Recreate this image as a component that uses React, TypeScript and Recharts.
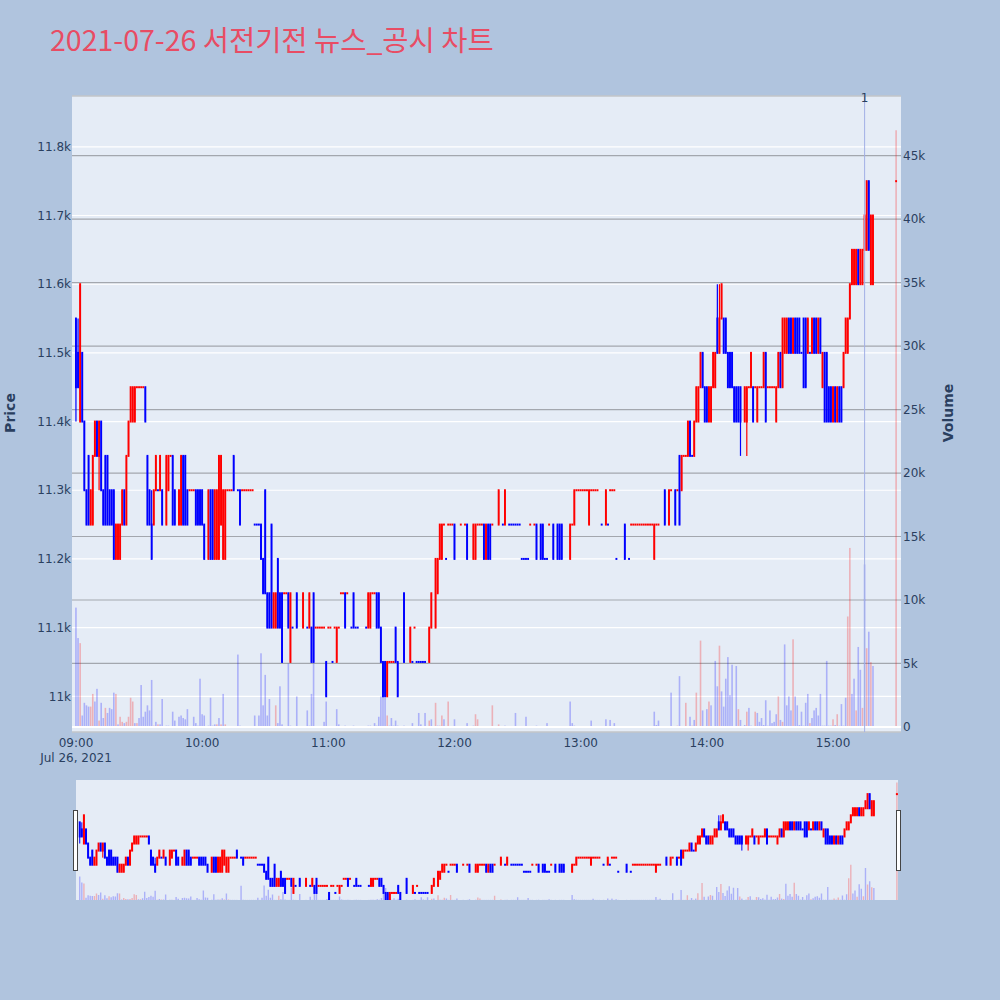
import React from "react";
import {
  Bar,
  CartesianGrid,
  ComposedChart,
  ReferenceLine,
  XAxis,
  YAxis,
} from "recharts";

const TITLE = "2021-07-26 서전기전 뉴스_공시 차트";

// 분 단위 (09:00 기준 경과 분)
const MINUTE = [
  0, 1, 2, 3, 4, 5, 6, 7, 8, 9,
  10, 11, 12, 13, 14, 15, 16, 17, 18, 19,
  20, 21, 22, 23, 24, 25, 26, 27, 28, 29,
  30, 31, 32, 33, 34, 35, 36, 37, 38, 39,
  40, 41, 43, 44, 45, 46, 47, 49, 50, 51,
  52, 53, 54, 55, 56, 57, 58, 59, 60, 61,
  63, 64, 65, 66, 67, 68, 69, 70, 71, 72,
  73, 74, 75, 77, 78, 79, 80, 81, 82, 83,
  84, 85, 86, 87, 88, 89, 90, 91, 92, 93,
  94, 95, 96, 97, 98, 99, 100, 101, 102, 103,
  105, 108, 110, 111, 112, 113, 114, 115, 116, 117,
  118, 119, 120, 121, 122, 123, 124, 125, 126, 127,
  128, 129, 131, 132, 133, 134, 138, 139, 140, 141,
  142, 143, 144, 145, 146, 147, 148, 149, 150, 151,
  152, 153, 156, 159, 160, 161, 162, 163, 164, 165,
  166, 168, 169, 171, 172, 173, 174, 175, 176, 177,
  178, 179, 180, 183, 185, 186, 189, 190, 191, 192,
  193, 194, 195, 196, 197, 198, 201, 203, 204, 206,
  207, 208, 209, 210, 211, 212, 213, 214, 215, 216,
  218, 219, 221, 222, 223, 224, 225, 227, 229, 230,
  231, 235, 236, 237, 238, 239, 240, 241, 242, 243,
  244, 245, 246, 247, 248, 250, 252, 253, 254, 255,
  256, 257, 261, 263, 264, 265, 266, 267, 268, 269,
  270, 271, 272, 273, 274, 275, 276, 277, 280, 282,
  283, 285, 286, 287, 288, 289, 290, 291, 292, 293,
  294, 295, 296, 297, 298, 299, 300, 301, 302, 303,
  304, 305, 306, 307, 308, 309, 310, 311, 312, 313,
  314, 315, 316, 318, 319, 320, 321, 322, 323, 324,
  325, 326, 327, 328, 329, 330, 331, 332, 333, 334,
  335, 336, 337, 338, 339, 340, 341, 342, 343, 344,
  345, 346, 347, 348, 349, 350, 351, 352, 353, 354,
  355, 356, 357, 358, 359, 360, 361, 362, 363, 364,
  365, 366, 367, 368, 369, 370, 371, 372, 373, 374,
  375, 376, 377, 378, 379, 390,
];

const OPEN = [
  11550, 11500, 11400, 11500, 11400, 11300, 11350, 11250, 11250, 11350,
  11400, 11350, 11400, 11300, 11350, 11350, 11300, 11300, 11300, 11200,
  11200, 11200, 11250, 11300, 11250, 11350, 11400, 11400, 11400, 11450,
  11450, 11450, 11450, 11450, 11350, 11300, 11250, 11250, 11300, 11300,
  11300, 11300, 11250, 11300, 11350, 11350, 11300, 11250, 11250, 11350,
  11350, 11300, 11300, 11300, 11300, 11300, 11300, 11300, 11300, 11250,
  11200, 11300, 11300, 11200, 11200, 11200, 11250, 11200, 11200, 11300,
  11300, 11300, 11350, 11300, 11300, 11300, 11300, 11300, 11300, 11300,
  11300, 11250, 11250, 11250, 11250, 11200, 11300, 11150, 11150, 11250,
  11100, 11100, 11200, 11150, 11150, 11150, 11150, 11150, 11050, 11100,
  11150, 11100, 11100, 11100, 11100, 11150, 11100, 11100, 11100, 11100,
  11100, 11050, 11100, 11100, 11050, 11100, 11050, 11100, 11150, 11150,
  11150, 11150, 11100, 11150, 11100, 11100, 11100, 11100, 11100, 11150,
  11150, 11150, 11150, 11100, 11050, 11050, 11000, 11050, 11050, 11050,
  11100, 11050, 11150, 11050, 11050, 11100, 11050, 11050, 11050, 11050,
  11050, 11050, 11100, 11100, 11150, 11200, 11200, 11250, 11200, 11250,
  11250, 11250, 11250, 11250, 11250, 11250, 11200, 11200, 11250, 11250,
  11250, 11250, 11200, 11250, 11250, 11250, 11250, 11250, 11250, 11250,
  11250, 11250, 11250, 11250, 11250, 11200, 11200, 11200, 11200, 11250,
  11250, 11250, 11250, 11250, 11200, 11200, 11250, 11250, 11250, 11250,
  11250, 11200, 11250, 11250, 11300, 11300, 11300, 11300, 11300, 11300,
  11250, 11300, 11300, 11300, 11300, 11250, 11250, 11250, 11300, 11300,
  11300, 11200, 11250, 11200, 11250, 11250, 11250, 11250, 11250, 11250,
  11250, 11250, 11250, 11250, 11250, 11200, 11250, 11250, 11300, 11250,
  11300, 11300, 11300, 11350, 11300, 11350, 11350, 11350, 11400, 11350,
  11350, 11400, 11400, 11450, 11500, 11450, 11450, 11400, 11400, 11450,
  11450, 11550, 11500, 11550, 11550, 11550, 11500, 11500, 11500, 11450,
  11450, 11450, 11450, 11400, 11400, 11450, 11450, 11450, 11450, 11400,
  11450, 11450, 11450, 11500, 11450, 11450, 11450, 11450, 11400, 11450,
  11500, 11450, 11500, 11500, 11550, 11550, 11500, 11550, 11550, 11550,
  11500, 11550, 11550, 11500, 11500, 11500, 11550, 11550, 11500, 11550,
  11450, 11500, 11500, 11450, 11450, 11400, 11450, 11400, 11450, 11450,
  11450, 11500, 11500, 11550, 11600, 11600, 11600, 11650, 11600, 11600,
  11650, 11650, 11750, 11600, 11600, 11750,
];

const HIGH = [
  11550, 11550, 11600, 11500, 11400, 11300, 11350, 11300, 11350, 11400,
  11400, 11400, 11400, 11300, 11350, 11350, 11300, 11300, 11300, 11250,
  11250, 11250, 11300, 11300, 11350, 11400, 11450, 11450, 11450, 11450,
  11450, 11450, 11450, 11450, 11350, 11300, 11300, 11300, 11350, 11300,
  11350, 11300, 11350, 11350, 11350, 11350, 11300, 11300, 11350, 11350,
  11350, 11300, 11300, 11300, 11300, 11300, 11300, 11300, 11300, 11250,
  11300, 11300, 11300, 11300, 11300, 11350, 11350, 11300, 11300, 11300,
  11300, 11300, 11350, 11300, 11300, 11300, 11300, 11300, 11300, 11300,
  11300, 11250, 11250, 11250, 11250, 11200, 11300, 11150, 11150, 11250,
  11150, 11150, 11200, 11150, 11150, 11150, 11150, 11150, 11150, 11100,
  11150, 11150, 11100, 11150, 11100, 11150, 11100, 11100, 11100, 11100,
  11100, 11050, 11100, 11100, 11050, 11100, 11100, 11100, 11150, 11150,
  11150, 11150, 11100, 11150, 11100, 11100, 11100, 11150, 11150, 11150,
  11150, 11150, 11150, 11100, 11050, 11050, 11050, 11050, 11050, 11050,
  11100, 11050, 11150, 11100, 11050, 11100, 11050, 11050, 11050, 11050,
  11050, 11100, 11150, 11200, 11200, 11250, 11250, 11250, 11200, 11250,
  11250, 11250, 11250, 11250, 11250, 11250, 11250, 11250, 11250, 11250,
  11250, 11250, 11250, 11250, 11250, 11250, 11300, 11250, 11300, 11250,
  11250, 11250, 11250, 11250, 11250, 11200, 11200, 11200, 11200, 11250,
  11250, 11250, 11250, 11250, 11200, 11200, 11250, 11250, 11250, 11250,
  11250, 11250, 11250, 11300, 11300, 11300, 11300, 11300, 11300, 11300,
  11300, 11300, 11300, 11300, 11300, 11250, 11300, 11250, 11300, 11300,
  11300, 11200, 11250, 11200, 11250, 11250, 11250, 11250, 11250, 11250,
  11250, 11250, 11250, 11250, 11250, 11250, 11250, 11250, 11300, 11300,
  11300, 11300, 11300, 11350, 11350, 11350, 11350, 11400, 11400, 11350,
  11400, 11450, 11450, 11500, 11500, 11450, 11450, 11450, 11450, 11500,
  11500, 11600, 11600, 11600, 11550, 11550, 11500, 11500, 11500, 11450,
  11450, 11450, 11450, 11450, 11450, 11450, 11500, 11450, 11450, 11450,
  11450, 11450, 11500, 11500, 11450, 11450, 11450, 11450, 11450, 11500,
  11500, 11550, 11550, 11550, 11550, 11550, 11550, 11550, 11550, 11550,
  11500, 11550, 11550, 11550, 11500, 11550, 11550, 11550, 11550, 11550,
  11500, 11500, 11500, 11450, 11450, 11450, 11450, 11450, 11450, 11450,
  11500, 11550, 11550, 11600, 11650, 11650, 11650, 11650, 11650, 11650,
  11700, 11750, 11750, 11700, 11700, 11750,
];

const LOW = [
  11400, 11450, 11400, 11400, 11300, 11250, 11250, 11250, 11250, 11350,
  11350, 11300, 11300, 11250, 11250, 11250, 11250, 11250, 11200, 11200,
  11200, 11200, 11250, 11250, 11250, 11350, 11400, 11400, 11400, 11450,
  11450, 11450, 11450, 11400, 11250, 11250, 11200, 11250, 11300, 11300,
  11300, 11250, 11250, 11300, 11350, 11250, 11250, 11250, 11250, 11250,
  11250, 11250, 11300, 11300, 11300, 11250, 11250, 11250, 11250, 11200,
  11200, 11200, 11200, 11200, 11200, 11200, 11250, 11200, 11200, 11300,
  11300, 11300, 11300, 11300, 11250, 11300, 11300, 11300, 11300, 11300,
  11300, 11250, 11250, 11250, 11200, 11150, 11150, 11100, 11100, 11100,
  11100, 11100, 11100, 11100, 11050, 11150, 11150, 11100, 11050, 11100,
  11100, 11100, 11100, 11100, 11050, 11050, 11100, 11100, 11100, 11100,
  11100, 11000, 11100, 11100, 11050, 11100, 11050, 11100, 11150, 11150,
  11100, 11150, 11100, 11100, 11100, 11100, 11100, 11100, 11100, 11150,
  11150, 11100, 11100, 11050, 11000, 11000, 11000, 11050, 11050, 11050,
  11050, 11000, 11050, 11050, 11050, 11100, 11050, 11050, 11050, 11050,
  11050, 11050, 11100, 11100, 11150, 11200, 11200, 11250, 11200, 11250,
  11250, 11250, 11200, 11250, 11250, 11200, 11200, 11200, 11250, 11250,
  11250, 11200, 11200, 11200, 11200, 11250, 11250, 11250, 11250, 11250,
  11250, 11250, 11250, 11250, 11250, 11200, 11200, 11200, 11200, 11250,
  11250, 11200, 11200, 11200, 11200, 11200, 11250, 11200, 11200, 11200,
  11200, 11200, 11250, 11250, 11300, 11300, 11300, 11300, 11300, 11300,
  11250, 11300, 11300, 11300, 11300, 11250, 11250, 11250, 11300, 11300,
  11300, 11200, 11200, 11200, 11250, 11250, 11250, 11250, 11250, 11250,
  11250, 11250, 11250, 11250, 11250, 11200, 11250, 11250, 11250, 11250,
  11300, 11250, 11300, 11250, 11300, 11350, 11350, 11350, 11350, 11350,
  11350, 11400, 11400, 11450, 11450, 11400, 11400, 11400, 11400, 11450,
  11450, 11500, 11500, 11550, 11500, 11500, 11450, 11450, 11450, 11400,
  11400, 11400, 11350, 11400, 11350, 11450, 11450, 11400, 11450, 11400,
  11450, 11450, 11450, 11400, 11450, 11450, 11450, 11450, 11400, 11450,
  11450, 11450, 11500, 11500, 11500, 11500, 11500, 11500, 11500, 11500,
  11500, 11450, 11450, 11500, 11500, 11500, 11500, 11500, 11500, 11500,
  11450, 11400, 11400, 11400, 11400, 11400, 11400, 11400, 11400, 11400,
  11450, 11500, 11500, 11550, 11600, 11600, 11600, 11600, 11600, 11600,
  11650, 11650, 11650, 11600, 11600, 11750,
];

const CLOSE = [
  11450, 11450, 11600, 11400, 11300, 11250, 11250, 11300, 11350, 11400,
  11350, 11400, 11300, 11250, 11250, 11250, 11250, 11250, 11200, 11250,
  11250, 11250, 11300, 11250, 11350, 11400, 11450, 11450, 11450, 11450,
  11450, 11450, 11450, 11400, 11250, 11250, 11200, 11300, 11350, 11300,
  11350, 11250, 11350, 11350, 11350, 11250, 11250, 11300, 11350, 11250,
  11250, 11250, 11300, 11300, 11300, 11250, 11250, 11250, 11250, 11200,
  11300, 11200, 11200, 11300, 11300, 11350, 11350, 11300, 11300, 11300,
  11300, 11300, 11300, 11300, 11250, 11300, 11300, 11300, 11300, 11300,
  11300, 11250, 11250, 11250, 11200, 11150, 11150, 11100, 11100, 11100,
  11150, 11150, 11100, 11100, 11050, 11150, 11150, 11100, 11150, 11100,
  11100, 11150, 11100, 11150, 11050, 11050, 11100, 11100, 11100, 11100,
  11100, 11000, 11100, 11100, 11050, 11100, 11100, 11100, 11150, 11150,
  11100, 11150, 11100, 11100, 11100, 11100, 11100, 11150, 11150, 11150,
  11150, 11100, 11100, 11050, 11000, 11000, 11050, 11050, 11050, 11050,
  11050, 11000, 11050, 11100, 11050, 11100, 11050, 11050, 11050, 11050,
  11050, 11100, 11150, 11200, 11200, 11250, 11250, 11250, 11200, 11250,
  11250, 11250, 11200, 11250, 11250, 11200, 11250, 11250, 11250, 11250,
  11250, 11200, 11250, 11200, 11200, 11250, 11300, 11250, 11300, 11250,
  11250, 11250, 11250, 11250, 11250, 11200, 11200, 11200, 11200, 11250,
  11250, 11200, 11200, 11200, 11200, 11200, 11250, 11200, 11200, 11200,
  11200, 11250, 11250, 11300, 11300, 11300, 11300, 11300, 11300, 11300,
  11300, 11300, 11300, 11300, 11300, 11250, 11300, 11250, 11300, 11300,
  11300, 11200, 11200, 11200, 11250, 11250, 11250, 11250, 11250, 11250,
  11250, 11250, 11250, 11250, 11250, 11250, 11250, 11250, 11250, 11300,
  11300, 11250, 11300, 11250, 11350, 11350, 11350, 11400, 11350, 11350,
  11400, 11450, 11450, 11500, 11450, 11400, 11400, 11450, 11450, 11500,
  11500, 11500, 11550, 11600, 11500, 11500, 11450, 11450, 11450, 11400,
  11400, 11400, 11400, 11450, 11450, 11450, 11500, 11400, 11450, 11450,
  11450, 11450, 11500, 11400, 11450, 11450, 11450, 11450, 11450, 11500,
  11450, 11550, 11550, 11550, 11500, 11500, 11550, 11500, 11500, 11500,
  11500, 11450, 11450, 11550, 11500, 11550, 11500, 11500, 11550, 11500,
  11500, 11400, 11400, 11400, 11400, 11450, 11400, 11450, 11400, 11400,
  11500, 11550, 11550, 11600, 11650, 11650, 11650, 11600, 11650, 11650,
  11700, 11750, 11650, 11700, 11700, 11750,
];

const VOLUME = [
  9400, 7000, 6600, 900, 1900, 1700, 1600, 1600, 2600, 2000,
  3000, 500, 1900, 700, 1500, 1100, 1500, 1400, 2700, 2600,
  200, 800, 400, 300, 400, 800, 2300, 2000, 300, 300,
  700, 3300, 800, 1200, 1700, 1300, 3700, 100, 400, 200,
  200, 2200, 100, 100, 50, 1200, 500, 800, 900, 700,
  600, 1400, 50, 50, 800, 300, 100, 3800, 1000, 900,
  100, 2300, 100, 200, 200, 700, 200, 2600, 200, 50,
  50, 50, 50, 5700, 100, 50, 50, 50, 50, 50,
  50, 900, 50, 900, 5800, 1700, 4100, 900, 2200, 50,
  50, 1700, 300, 3200, 200, 50, 50, 5000, 100, 50,
  2400, 50, 1300, 100, 2600, 5000, 50, 50, 50, 50,
  400, 2000, 50, 50, 50, 50, 1400, 200, 50, 50,
  100, 50, 50, 100, 50, 50, 50, 100, 100, 50,
  300, 100, 800, 2400, 4800, 2300, 900, 100, 700, 100,
  500, 100, 100, 50, 300, 50, 50, 1100, 200, 50,
  1100, 500, 600, 1900, 100, 100, 900, 600, 50, 2000,
  50, 50, 600, 50, 50, 300, 100, 1000, 600, 50,
  50, 50, 50, 50, 50, 1700, 200, 50, 100, 50,
  50, 50, 1100, 50, 50, 50, 50, 800, 50, 50,
  50, 100, 50, 50, 50, 300, 50, 50, 50, 50,
  50, 2000, 300, 100, 50, 50, 50, 50, 50, 50,
  50, 500, 50, 50, 50, 50, 600, 50, 550, 50,
  300, 50, 50, 50, 50, 50, 50, 50, 50, 50,
  50, 50, 50, 50, 50, 1200, 150, 500, 50, 50,
  2700, 50, 100, 4000, 50, 50, 1900, 50, 800, 100,
  550, 2700, 50, 6800, 1300, 50, 1400, 2000, 1700, 50,
  5200, 3200, 6400, 2800, 1600, 3800, 5500, 2500, 4900, 50,
  4800, 1400, 550, 150, 1200, 1500, 100, 50, 1200, 1100,
  400, 700, 150, 2100, 100, 1300, 300, 400, 1000, 2400,
  550, 400, 6500, 1700, 2400, 1300, 6900, 2400, 1700, 150,
  1200, 100, 1900, 2600, 300, 700, 1300, 1500, 900, 2600,
  100, 100, 5200, 100, 100, 600, 150, 1000, 100, 1800,
  100, 2300, 8700, 14100, 2600, 3800, 1300, 6300, 4500, 1500,
  12800, 6200, 7500, 5100, 4800, 47000,
];

// 거래량 막대가 빨간색인 분
const VOLUME_UP = [
  2, 7, 8, 11, 14, 19, 21, 22, 24, 25, 26, 27, 29, 37, 39, 45, 67, 69, 71,
  80, 94, 95, 103, 148, 161, 168, 171, 173, 174, 177, 190, 191, 198, 201,
  286, 288, 290, 293, 295, 297, 301, 306, 315, 319, 323, 334, 336, 341,
  349, 360, 362, 367, 368, 371, 374, 376, 378, 390,
];

const X_TICKS = [0, 60, 120, 180, 240, 300, 360];
const X_TICK_LABELS = ["09:00", "10:00", "11:00", "12:00", "13:00", "14:00", "15:00"];
const X_DATE_LABEL = "Jul 26, 2021";
const PRICE_TICKS = [11000, 11100, 11200, 11300, 11400, 11500, 11600, 11700, 11800];
const VOLUME_TICKS = [0, 5000, 10000, 15000, 20000, 25000, 30000, 35000, 40000, 45000];

// 뉴스/공시 표시 (15:15)
const NEWS_MINUTE = 375;
const NEWS_LABEL = "1";

const UP = "#FF0000";
const DOWN = "#0000FF";
const VOL_UP_FILL = "rgba(255, 0, 0, 0.25)";
const VOL_DOWN_FILL = "rgba(0, 0, 255, 0.25)";
const TEXT = "#2a3f5f";
const FONT = "DejaVu Sans, Verdana, sans-serif";

// plotly 방식: 시가=종가면 직전 종가와 비교, 같으면 직전 방향 유지
const rows = (() => {
  let prevClose: number | null = null;
  let prevUp = true;
  return MINUTE.map((m, i) => {
    const o = OPEN[i];
    const c = CLOSE[i];
    let up: boolean;
    if (c > o) up = true;
    else if (c < o) up = false;
    else if (prevClose == null) up = true;
    else if (c > prevClose) up = true;
    else if (c < prevClose) up = false;
    else up = prevUp;
    prevClose = c;
    prevUp = up;
    return {
      m,
      open: o,
      high: HIGH[i],
      low: LOW[i],
      close: c,
      range: [LOW[i], HIGH[i]],
      volume: VOLUME[i],
      up,
      volUp: VOLUME_UP.includes(m),
    };
  });
})();

const makeCandle = (bodyW: number, wickW: number) => (p: any) => {
  const { x, width, y, height, payload } = p;
  if (x == null || y == null || !payload) return <g />;
  const cx = x + width / 2;
  const h = height || 0;
  const top = Math.min(y, y + h);
  const bot = Math.max(y, y + h);
  const span = payload.high - payload.low;
  const k = span > 0 ? (bot - top) / span : 0;
  const yo = top + (payload.high - payload.open) * k;
  const yc = top + (payload.high - payload.close) * k;
  const color = payload.up ? UP : DOWN;
  return (
    <g>
      {span > 0 && (
        <line x1={cx} x2={cx} y1={top} y2={bot} stroke={color} strokeWidth={wickW} />
      )}
      <rect
        x={cx - bodyW / 2}
        y={Math.min(yo, yc) - 1}
        width={bodyW}
        height={Math.abs(yo - yc) + 2}
        fill={color}
      />
    </g>
  );
};

const makeVolume = (w: number) => (p: any) => {
  const { x, width, y, height, payload } = p;
  if (x == null || y == null || !payload) return <g />;
  const cx = x + width / 2;
  const h = height || 0;
  return (
    <rect
      x={cx - w / 2}
      y={Math.min(y, y + h)}
      width={w}
      height={Math.abs(h)}
      fill={payload.volUp ? VOL_UP_FILL : VOL_DOWN_FILL}
    />
  );
};

const TimeTick = (p: any) => {
  const { x, y, payload } = p;
  const i = X_TICKS.indexOf(payload.value);
  return (
    <g>
      <text x={x} y={y + 14.5} textAnchor="middle" fill={TEXT} fontSize={12} fontFamily={FONT}>
        {X_TICK_LABELS[i]}
      </text>
      {i === 0 && (
        <text x={x} y={y + 29.5} textAnchor="middle" fill={TEXT} fontSize={12} fontFamily={FONT}>
          {X_DATE_LABEL}
        </text>
      )}
    </g>
  );
};

const NewsLabel = (p: any) => {
  const vb = p.viewBox || {};
  const top = Math.min(vb.y ?? 0, (vb.y ?? 0) + (vb.height ?? 0));
  return (
    <text x={vb.x} y={top + 6} textAnchor="middle" fill={TEXT} fontSize={12} fontFamily={FONT}>
      {NEWS_LABEL}
    </text>
  );
};

const kFormat = (v: number) => (v === 0 ? "0" : `${v / 1000}k`);

const X_DOMAIN = [-1.9, 392.3];
const SLIDER_X_DOMAIN = [-1.8, 390.5];

const mainCandle = makeCandle(1.9, 1.2);
const mainVolume = makeVolume(1.6);
const sliderCandle = makeCandle(2, 1);
const sliderVolume = makeVolume(1.4);

export default function App() {
  return (
    <div
      style={{
        position: "absolute",
        left: 0,
        top: 0,
        width: 1000,
        height: 1000,
        background: "#B0C4DE",
        overflow: "hidden",
      }}
    >
      <div style={{ position: "absolute", left: 0, top: 0 }}>
        <ComposedChart
          width={1000}
          height={770}
          data={rows}
          margin={{ top: 96, right: 39, bottom: 8, left: 12 }}
        >
          <CartesianGrid
            xAxisId="candle"
            yAxisId="price"
            vertical={false}
            stroke="#FFFFFF"
            strokeWidth={1.2}
            fill="#E5ECF6"
            fillOpacity={1}
          />
          <CartesianGrid
            xAxisId="candle"
            yAxisId="vol"
            vertical={false}
            stroke="#A3A7AE"
            strokeWidth={1.2}
          />
          <XAxis
            xAxisId="candle"
            dataKey="m"
            type="number"
            domain={X_DOMAIN}
            ticks={X_TICKS}
            interval={0}
            allowDataOverflow
            axisLine={false}
            tickLine={false}
            tickSize={0}
            tickMargin={0}
            height={30}
            tick={TimeTick}
          />
          <XAxis
            xAxisId="vol"
            dataKey="m"
            type="number"
            domain={X_DOMAIN}
            allowDataOverflow
            hide
          />
          <YAxis
            yAxisId="price"
            domain={[10948, 11874]}
            ticks={PRICE_TICKS}
            interval={0}
            allowDataOverflow
            axisLine={false}
            tickLine={false}
            tickSize={0}
            tickMargin={1}
            width={60}
            tickFormatter={kFormat}
            tick={{ fill: TEXT, fontSize: 12, fontFamily: FONT }}
          />
          <YAxis
            yAxisId="vol"
            orientation="right"
            domain={[-400, 49700]}
            ticks={VOLUME_TICKS}
            interval={0}
            allowDataOverflow
            axisLine={false}
            tickLine={false}
            tickSize={0}
            tickMargin={2}
            width={60}
            tickFormatter={kFormat}
            tick={{ fill: TEXT, fontSize: 12, fontFamily: FONT, textAnchor: "start" }}
          />
          <ReferenceLine xAxisId="candle" yAxisId="vol" y={0} stroke="#FFFFFF" strokeWidth={2} />
          <Bar
            xAxisId="vol"
            yAxisId="vol"
            dataKey="volume"
            barSize={2}
            shape={mainVolume}
            isAnimationActive={false}
          />
          <Bar
            xAxisId="candle"
            yAxisId="price"
            dataKey="range"
            barSize={2}
            shape={mainCandle}
            isAnimationActive={false}
          />
          <ReferenceLine
            xAxisId="candle"
            yAxisId="price"
            x={NEWS_MINUTE}
            stroke="#A2B0E6"
            strokeWidth={1}
            label={NewsLabel}
          />
        </ComposedChart>
      </div>

      <div
        style={{
          position: "absolute",
          left: 76,
          top: 780,
          width: 822,
          height: 120,
          background: "#E5ECF6",
        }}
      >
        <ComposedChart
          width={822}
          height={120}
          data={rows}
          margin={{ top: 0, right: 0, bottom: 0, left: 0 }}
        >
          <XAxis xAxisId="candle" dataKey="m" type="number" domain={SLIDER_X_DOMAIN} allowDataOverflow hide />
          <XAxis xAxisId="vol" dataKey="m" type="number" domain={SLIDER_X_DOMAIN} allowDataOverflow hide />
          <YAxis yAxisId="price" domain={[11000, 11850]} allowDataOverflow hide />
          <YAxis yAxisId="vol" domain={[0, 48000]} allowDataOverflow hide />
          <Bar
            xAxisId="vol"
            yAxisId="vol"
            dataKey="volume"
            barSize={2}
            shape={sliderVolume}
            isAnimationActive={false}
          />
          <Bar
            xAxisId="candle"
            yAxisId="price"
            dataKey="range"
            barSize={2}
            shape={sliderCandle}
            isAnimationActive={false}
          />
        </ComposedChart>
      </div>

      <svg
        width={1000}
        height={1000}
        style={{ position: "absolute", left: 0, top: 0, pointerEvents: "none" }}
      >
        <text x={50} y={51} fill="#E84C64" fontSize={28.5} fontFamily="Noto Sans CJK KR, sans-serif">
          {TITLE}
        </text>
        <text
          transform="translate(15, 413) rotate(-90)"
          textAnchor="middle"
          fill={TEXT}
          fontSize={14}
          fontWeight="bold"
          fontFamily={FONT}
        >
          Price
        </text>
        <text
          transform="translate(953, 413) rotate(-90)"
          textAnchor="middle"
          fill={TEXT}
          fontSize={14}
          fontWeight="bold"
          fontFamily={FONT}
        >
          Volume
        </text>
        <rect x={73.5} y={810.5} width={4} height={60} fill="#FFFFFF" stroke="#444444" strokeWidth={1} />
        <rect x={896.5} y={810.5} width={4} height={60} fill="#FFFFFF" stroke="#444444" strokeWidth={1} />
      </svg>
    </div>
  );
}
